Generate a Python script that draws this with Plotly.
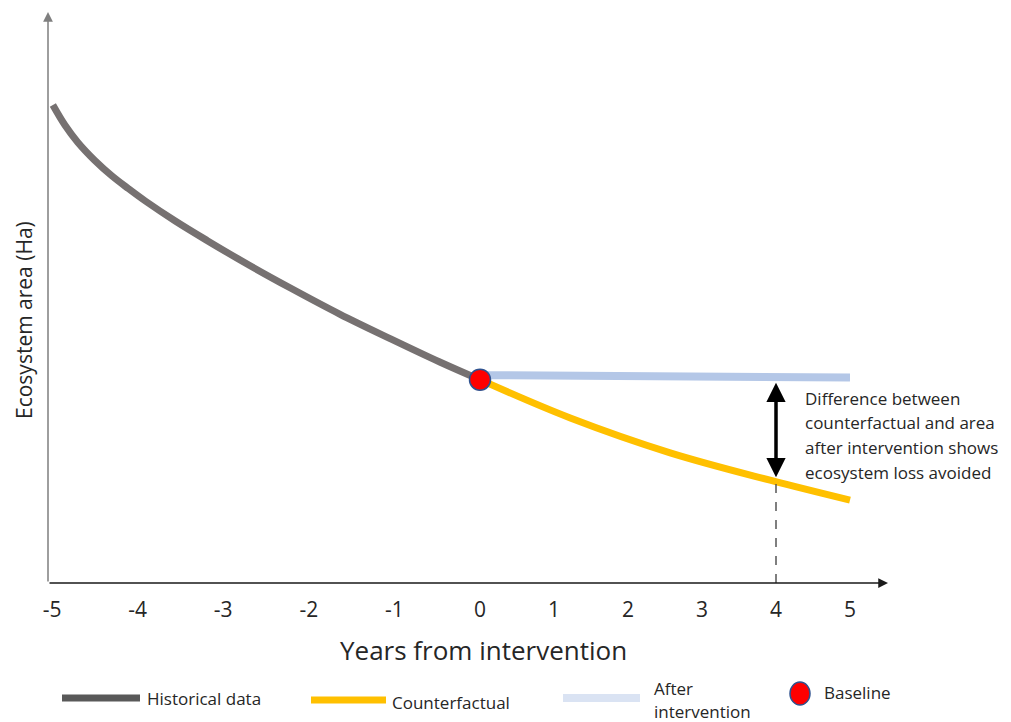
import numpy as np
import plotly.graph_objects as go

# ---- data (years from intervention, ecosystem area index) ----
hist_years = [-4.99, -4.85, -4.70, -4.50, -4.30, -4.11, -3.91, -3.56, -3.19, -2.69,
              -2.22, -1.64, -1.05, -0.47, 0.0]
hist_area = [83.7, 80.2, 77.2, 74.0, 71.3, 69.1, 66.9, 63.4, 60.0, 55.6,
             51.7, 47.1, 42.8, 38.7, 35.6]

cf_years = [0.0, 1.22, 2.57, 3.92, 5.0]
cf_area = [35.6, 28.9, 22.8, 18.0, 14.5]

after_years = [0.0, 5.0]
after_area = [36.4, 36.0]

baseline_year = [0.0]
baseline_area = [35.6]

marker_year = 4
left_ticks = [-5, -4, -3, -2, -1]
left_text = ["-5", "-4", "-3", "-2", "-1"]
right_ticks = [0, 1, 2, 3, 4, 5]
right_text = ["0", "1", "2", "3", "4", "5"]

# ---- figure geometry (reference pixel frame; page body adds an 8px offset) ----
OFF = 8
W, H = 1011 - OFF, 722 - OFF
L, R, T, B = 48, 890, 12, 583
split = (480 - L) / (R - L)


def px(xp):
    return (xp - L) / (R - L)


def py(yp):
    return (B - yp) / (B - T)


FONT = "Open Sans"
TXT = "#262626"

fig = go.Figure()

fig.add_trace(go.Scatter(x=after_years, y=after_area, xaxis="x2", yaxis="y",
                         mode="lines", line=dict(color="#B4C7E7", width=8),
                         hoverinfo="skip", showlegend=False))
fig.add_trace(go.Scatter(x=cf_years, y=cf_area, xaxis="x2", yaxis="y",
                         mode="lines", line=dict(color="#FFC000", width=7, shape="spline"),
                         hoverinfo="skip", showlegend=False))
fig.add_trace(go.Scatter(x=hist_years, y=hist_area, xaxis="x", yaxis="y",
                         mode="lines", line=dict(color="#767171", width=7, shape="spline",
                                                 smoothing=1.0),
                         hoverinfo="skip", showlegend=False))

# dashed drop line at year 4 down from the counterfactual
cf_at = float(np.interp(marker_year, cf_years, cf_area))
after_at = float(np.interp(marker_year, after_years, after_area))
fig.add_trace(go.Scatter(x=[marker_year, marker_year], y=[0, cf_at], xaxis="x2", yaxis="y",
                         mode="lines", line=dict(color="#555555", width=1.5, dash="dash"),
                         hoverinfo="skip", showlegend=False))

fig.add_trace(go.Scatter(x=baseline_year, y=baseline_area, xaxis="x2", yaxis="y",
                         mode="markers",
                         marker=dict(color="#FF0000", size=21, line=dict(color="#2F528F", width=1.5)),
                         hoverinfo="skip", showlegend=False, cliponaxis=False))

annotations = []
# axis arrows
annotations.append(dict(xref="paper", yref="paper", x=px(888), y=0, ax=-(888 - L), ay=0,
                        axref="pixel", ayref="pixel", text="", showarrow=True,
                        arrowhead=2, arrowsize=1.3, arrowwidth=1.5, arrowcolor="#1a1a1a"))
annotations.append(dict(xref="paper", yref="paper", x=0, y=1, ax=0, ay=(B - T),
                        axref="pixel", ayref="pixel", text="", showarrow=True,
                        arrowhead=2, arrowsize=1.3, arrowwidth=1.5, arrowcolor="#7f7f7f"))
# double arrow
annotations.append(dict(xref="x2", yref="y", x=marker_year, y=after_at - 1.0,
                        axref="x2", ayref="y", ax=marker_year, ay=cf_at + 0.5,
                        text="", showarrow=True, arrowside="end+start",
                        arrowhead=2, arrowsize=1.1, arrowwidth=3.5, arrowcolor="#000000"))
# explanatory text
lines = ["Difference between", "counterfactual and area",
         "after intervention shows", "ecosystem loss avoided"]
for i, t in enumerate(lines):
    annotations.append(dict(xref="paper", yref="paper", x=px(803), y=py(398 + i * 24.7),
                            xanchor="left", yanchor="middle", text=t, showarrow=False,
                            font=dict(family=FONT, size=17, color=TXT)))
# axis titles
annotations.append(dict(xref="paper", yref="paper", x=px(24), y=py(320), text="Ecosystem area (Ha)",
                        showarrow=False, xanchor="center", yanchor="middle", textangle=-90,
                        font=dict(family=FONT, size=21, color=TXT)))
annotations.append(dict(xref="paper", yref="paper", x=px(484), y=py(650), text="Years from intervention",
                        showarrow=False, xanchor="center", yanchor="middle",
                        font=dict(family=FONT, size=26, color=TXT)))

# manual legend
shapes = []
leg = [
    ("#595959", 62, 140, 698, 7, ["Historical data"], 145, [698]),
    ("#FFC000", 311, 386, 700, 7, ["Counterfactual"], 390, [702]),
    ("#DAE3F3", 563, 640, 698, 8, ["After", "intervention"], 652, [688, 711]),
]
for col, x0, x1, yy, w, labels, tx, tys in leg:
    shapes.append(dict(type="line", xref="paper", yref="paper", x0=px(x0), x1=px(x1),
                       y0=py(yy), y1=py(yy), line=dict(color=col, width=w)))
    for lab, ty in zip(labels, tys):
        annotations.append(dict(xref="paper", yref="paper", x=px(tx), y=py(ty), text=lab,
                                xanchor="left", yanchor="middle", showarrow=False,
                                font=dict(family=FONT, size=17, color=TXT)))
shapes.append(dict(type="circle", xref="paper", yref="paper", x0=px(790), x1=px(810),
                   y0=py(705), y1=py(682), fillcolor="#FF0000",
                   line=dict(color="#2F528F", width=1.5)))
annotations.append(dict(xref="paper", yref="paper", x=px(822), y=py(692), text="Baseline",
                        xanchor="left", yanchor="middle", showarrow=False,
                        font=dict(family=FONT, size=17, color=TXT)))

axis_common = dict(showgrid=False, zeroline=False, showline=False, ticks="",
                   ticklabelstandoff=12, tickfont=dict(family=FONT, size=21, color=TXT))

fig.update_layout(
    width=W, height=H, autosize=False,
    margin=dict(l=L - OFF, r=W - (R - OFF), t=T - OFF, b=H - (B - OFF)),
    paper_bgcolor="white", plot_bgcolor="white",
    showlegend=False,
    xaxis=dict(domain=[0, split], range=[-5 - 4 / 85.6, 0], tickvals=left_ticks,
               ticktext=left_text, anchor="y", **axis_common),
    xaxis2=dict(domain=[split, 1], range=[0, (R - 480) / 74], tickvals=right_ticks,
                ticktext=right_text, anchor="y", **axis_common),
    yaxis=dict(range=[0, 100], showticklabels=False, showgrid=False, zeroline=False,
               showline=False, ticks=""),
    annotations=annotations,
    shapes=shapes,
)

fig.write_html("out.html")
